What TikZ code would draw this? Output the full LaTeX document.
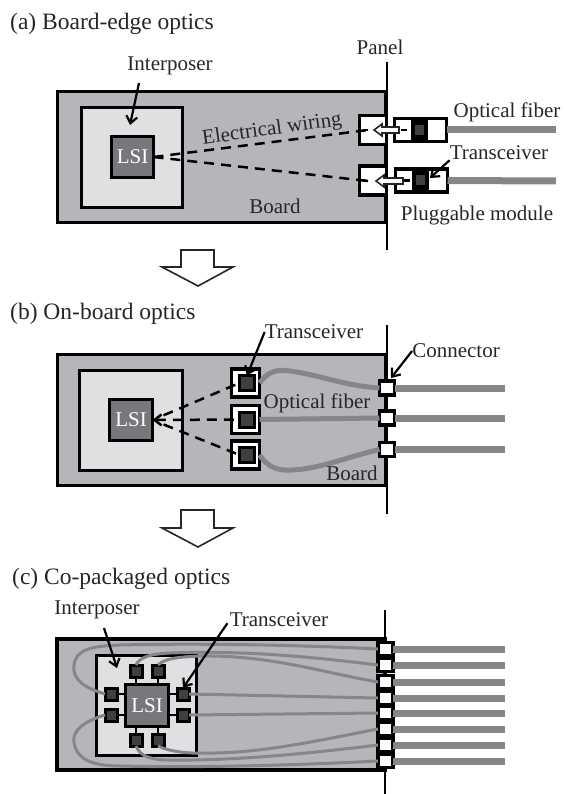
\documentclass[tikz,border=0pt]{standalone}
\usepackage{fontspec}
\setmainfont{Liberation Serif}
\usepackage{xcolor}
\usetikzlibrary{arrows.meta,positioning,calc}
\definecolor{boardgray}{HTML}{B5B6B9}
\definecolor{interposergray}{HTML}{DFE0E2}
\definecolor{lsigray}{HTML}{77787B}
\definecolor{fibergray}{HTML}{85868A}
\definecolor{chipgray}{HTML}{3F4042}
\definecolor{inkgray}{HTML}{262626}
\tikzset{
  part/.style={draw=black, line width=3.4pt, inner sep=0pt, outer sep=0pt},
  boardbox/.style={part, fill=boardgray, minimum width=328pt, minimum height=131pt},
  interposerbox/.style={part, fill=interposergray},
  lsibox/.style={part, fill=lsigray, text=white, font=\fontsize{21}{21}\selectfont},
  whitebox/.style={part, fill=white},
  chipbox/.style={part, fill=chipgray, line width=3pt},
  title/.style={anchor=west, inner sep=0pt, text=inkgray, font=\fontsize{23.5}{24}\selectfont},
  lbl/.style={inner sep=0pt, text=inkgray, font=\fontsize{21}{22}\selectfont},
  panelline/.style={line width=2.2pt},
  fiber/.style={draw=fibergray, line width=7pt},
  boardfiber/.style={draw=fibergray, line width=5pt},
  thinfiber/.style={draw=fibergray, line width=3pt},
  wire/.style={line width=2.5pt, dash pattern=on 10pt off 7pt},
  pointer/.style={->, line width=2.2pt},
  stub/.style={line width=2.5pt},
  blockarrow/.style={draw=inkgray, line width=1.6pt, fill=white}
}
\begin{document}
\begin{tikzpicture}[x=1pt, y=-1pt, >={Straight Barb[length=7pt,width=11pt]}]
    \useasboundingbox (0,0) rectangle (564,794);

    % (a) Board-edge optics
    \node[title] (titlea) at (10,24) {(a) Board-edge optics};
    \node[boardbox] (boarda) at (221.5,157) {};
    \node[interposerbox, minimum width=101pt, minimum height=100pt] (ipa) at (132,157.5) {};
    \node[lsibox, minimum width=42pt, minimum height=41pt] (lsia) at (132.5,157) {LSI};
    \coordinate (panelatop) at (387,62);
    \coordinate (panelabot) at (387,250);

    % Fibers and modules
    \coordinate (fibera1) at (556,130);
    \coordinate (fibera2) at (556,181);
    \node[whitebox, minimum width=52pt, minimum height=23pt] (moda1) at (420.5,130) {};
    \node[whitebox, minimum width=52pt, minimum height=23pt] (moda2) at (421.5,180.5) {};
    \draw[fiber] (moda1.east) -- (fibera1);
    \draw[fiber] (moda2.east) -- (fibera2);
    \node[part, fill=black, minimum width=16pt, minimum height=23pt, line width=0pt] (blacka1) at (419,130) {};
    \node[part, fill=black, minimum width=16pt, minimum height=23pt, line width=0pt] (blacka2) at (420,180.5) {};
    \node[inner sep=0pt, fill=chipgray, minimum width=9pt, minimum height=10pt] (chipa1) at (419,130) {};
    \node[inner sep=0pt, fill=chipgray, minimum width=9pt, minimum height=10pt] (chipa2) at (420,180.5) {};
    \node[whitebox, minimum width=27pt, minimum height=29pt] (cona1) at (373,130) {};
    \node[whitebox, minimum width=27pt, minimum height=29pt] (cona2) at (373,180.5) {};
    \draw[panelline] (panelatop) -- (panelabot);

    % Wiring
    \coordinate (stuba1) at (368,130);
    \coordinate (stuba2) at (368,181);
    \draw[wire] (lsia.east) -- (stuba1);
    \draw[wire] (lsia.east) -- (stuba2);
    \draw[stub] (cona1.west) ++(3,0) -- (stuba1);
    \draw[stub] (cona2.west) ++(3,0) -- (stuba2);
    \draw[stub] (moda1.west) ++(6,0) -- ++(6,0);
    \draw[stub] (moda2.west) ++(8,0) -- ++(6,0);

    % Plug arrows
    \draw[blockarrow] (399,127) -- (382,127) -- (382,124) -- (374,130) -- (382,136) -- (382,133) -- (399,133) -- cycle;
    \draw[blockarrow] (403,178) -- (384,178) -- (384,175) -- (376,181) -- (384,187) -- (384,184) -- (403,184) -- cycle;

    % Labels
    \node[lbl] (panellbl) at (380,47) {Panel};
    \node[lbl] (ipalbl) at (170,66) {Interposer};
    \node[lbl] (fibalbl) at (507,112) {Optical fiber};
    \node[lbl] (txalbl) at (499,153) {Transceiver};
    \node[lbl] (boardalbl) at (275,206) {Board};
    \node[lbl] (pluglbl) at (477,215) {Pluggable module};
    \node[lbl, rotate=8] (wirelbl) at (272,130) {Electrical wiring};
    \coordinate (ipastart) at (139,83);
    \coordinate (ipatip) at (130,125);
    \coordinate (txatip) at (430,178);
    \draw[pointer] (ipastart) -- (ipatip);
    \draw[pointer] (txalbl.south west) -- (txatip);

    % Down arrow
    \draw[blockarrow] (181,250) -- (214,250) -- (214,267) -- (233,267) -- (198,286) -- (162,267) -- (181,267) -- cycle;

    % (b) On-board optics
    \node[title] (titleb) at (10,314) {(b) On-board optics};
    \node[boardbox] (boardb) at (221.5,420) {};
    \node[interposerbox, minimum width=103pt, minimum height=100pt] (ipb) at (131,420.5) {};
    \node[lsibox, minimum width=43pt, minimum height=41pt] (lsib) at (131,420) {LSI};
    \coordinate (panelbtop) at (387,325);
    \coordinate (panelbbot) at (387,514);
    \draw[panelline] (panelbtop) -- (panelbbot);

    % Transceivers and connectors
    \foreach \n/\y in {1/383,2/419.5,3/455} {
        \node[whitebox, minimum width=28pt, minimum height=28pt] (trb\n) at (245.5,\y) {};
        \node[chipbox, minimum width=15pt, minimum height=15pt] (chipb\n) at (247,\y) {};
    }
    \foreach \n/\y in {1/388,2/418,3/449.5} {
        \node[whitebox, minimum width=15pt, minimum height=14pt] (conb\n) at (387,\y) {};
        \coordinate (fiberb\n) at (505,\y);
        \draw[fiber] (conb\n.east) -- (fiberb\n);
    }

    % Fibers on the board
    \draw[boardfiber] (trb1.east) .. controls (268,372) and (275,369) .. (290,371) .. controls (320,375) and (345,386) .. (conb1.west);
    \draw[boardfiber] (trb2.east) -- (conb2.west);
    \draw[boardfiber] (trb3.east) .. controls (268,467) and (277,471) .. (292,470) .. controls (320,469) and (350,456) .. (conb3.west);

    % Wiring
    \draw[wire, <-] (lsib.east) -- (chipb2.west);
    \draw[wire, shorten <=12pt] (lsib.east) -- (chipb1.west);
    \draw[wire, shorten <=12pt] (lsib.east) -- (chipb3.west);

    % Labels
    \node[lbl] (txblbl) at (314,332) {Transceiver};
    \node[lbl] (connlbl) at (456,351) {Connector};
    \node[lbl] (fibblbl) at (317,403) {Optical fiber};
    \node[lbl] (boardblbl) at (352,473) {Board};
    \coordinate (connbtip) at (391,378);
    \draw[pointer] (txblbl.west) -- (chipb1.north);
    \draw[pointer] (connlbl.west) -- (connbtip);

    % Down arrow
    \draw[blockarrow] (181,510) -- (214,510) -- (214,528) -- (233,528) -- (198,547) -- (162,528) -- (181,528) -- cycle;

    % (c) Co-packaged optics
    \node[title] (titlec) at (12,579) {(c) Co-packaged optics};
    \node[boardbox] (boardc) at (221,704.5) {};
    \node[interposerbox, minimum width=100pt, minimum height=100pt] (ipc) at (146.5,705.5) {};
    \coordinate (panelctop) at (385,610);
    \coordinate (panelcbot) at (385,794);
    \draw[panelline] (panelctop) -- (panelcbot);

    % Transceivers around the chip
    \node[lsibox, minimum width=43pt, minimum height=42pt] (lsic) at (147,705.5) {LSI};
    \foreach \nm/\x/\y in {t1/136/671,t2/158/671,l1/111/694,l2/111/715,r1/183/694,r2/183/715,b1/136/740,b2/158/740} {
        \node[chipbox, minimum width=12pt, minimum height=12pt] (chipc\nm) at (\x,\y) {};
    }
    \foreach \nm in {t1,t2} \draw[stub] (chipc\nm.south) -- (chipc\nm.south |- lsic.north);
    \foreach \nm in {b1,b2} \draw[stub] (chipc\nm.north) -- (chipc\nm.north |- lsic.south);
    \foreach \nm in {l1,l2} \draw[stub] (chipc\nm.east) -- (chipc\nm.east -| lsic.west);
    \foreach \nm in {r1,r2} \draw[stub] (chipc\nm.west) -- (chipc\nm.west -| lsic.east);

    % Connectors
    \foreach \n/\y in {1/649,2/665,3/682,4/698,5/713,6/729,7/745,8/761} {
        \node[whitebox, minimum width=15pt, minimum height=12.5pt] (conc\n) at (385.5,\y) {};
        \coordinate (fiberc\n) at (505,\y);
        \draw[fiber] (conc\n.east) -- (fiberc\n);
    }

    % Fibers on the board
    \draw[thinfiber] (chipcl1.west) .. controls (85,688) and (72,680) .. (74,665) .. controls (76,650) and (90,646) .. (120,645) .. controls (200,643) and (300,645) .. (conc1.west);
    \draw[thinfiber] (chipct1.north) .. controls (140,657) and (150,654) .. (170,653) .. controls (250,650) and (320,658) .. (conc2.west);
    \draw[thinfiber] (chipct2.north) .. controls (165,658) and (180,657) .. (200,656) .. controls (270,655) and (320,672) .. (conc3.west);
    \draw[thinfiber] (chipcr1.east) -- (conc4.west);
    \draw[thinfiber] (chipcr2.east) -- (conc5.west);
    \draw[thinfiber] (chipcb2.south) .. controls (170,752) and (190,754) .. (215,753) .. controls (270,752) and (330,738) .. (conc6.west);
    \draw[thinfiber] (chipcb1.south) .. controls (140,756) and (150,760) .. (170,760) .. controls (240,761) and (320,752) .. (conc7.west);
    \draw[thinfiber] (chipcl2.west) .. controls (85,721) and (72,730) .. (74,742) .. controls (76,758) and (90,766) .. (120,766) .. controls (200,768) and (300,765) .. (conc8.west);

    % Labels
    \node[lbl] (ipclbl) at (97,610) {Interposer};
    \node[lbl] (txclbl) at (279,620) {Transceiver};
    \coordinate (ipcstart) at (104,628);
    \coordinate (ipctip) at (117,668);
    \draw[pointer] (ipcstart) -- (ipctip);
    \draw[pointer, shorten <=4pt] (txclbl.west) -- (chipcr1.north);
\end{tikzpicture}
\end{document}
